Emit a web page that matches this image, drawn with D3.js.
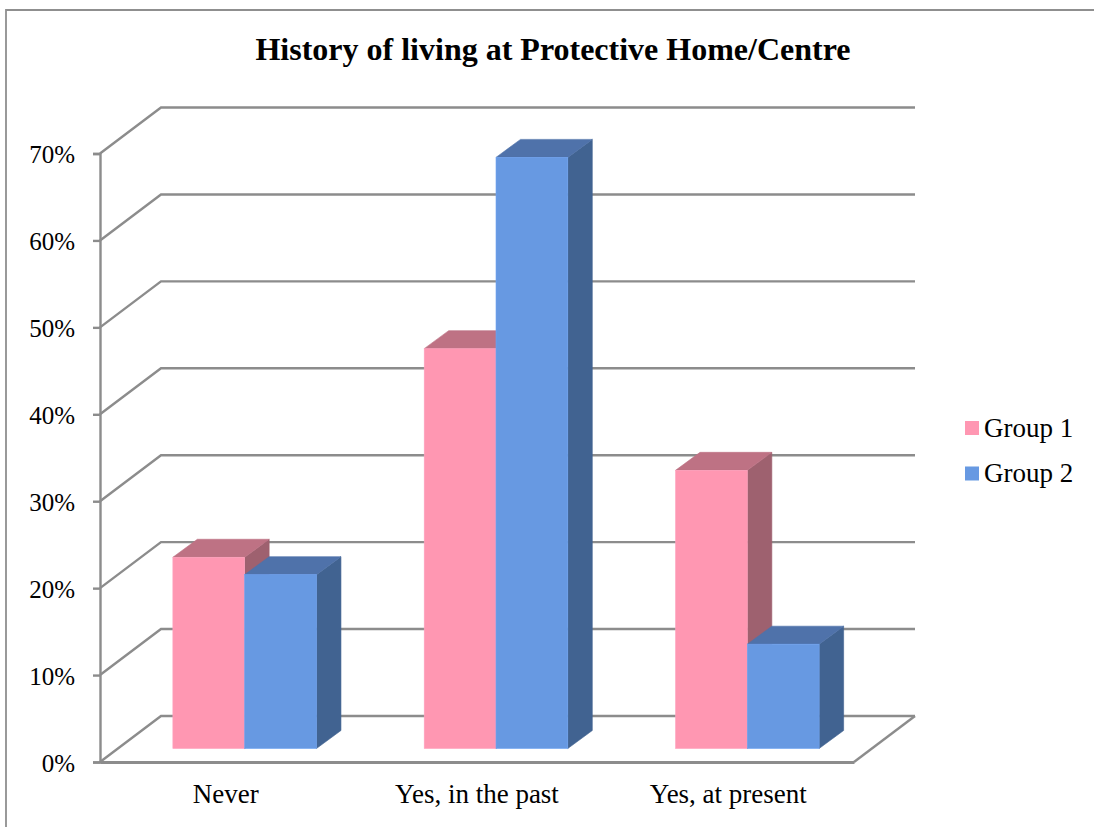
<!DOCTYPE html>
<html>
<head>
<meta charset="utf-8">
<script src="https://cdn.jsdelivr.net/npm/d3@7/dist/d3.min.js"></script>
<style>
  html, body { margin: 0; padding: 0; background: #fff; }
  svg { display: block; }
  text { font-family: "Liberation Serif", serif; fill: #000; }
</style>
</head>
<body>
<div id="chart"></div>
<script>
// Chart content
const chartTitle = "History of living at Protective Home/Centre";
const categories = ["Never", "Yes, in the past", "Yes, at present"];
const seriesNames = ["Group 1", "Group 2"];
const group1Values = [22, 46, 32];
const group2Values = [20, 68, 12];
const tickValues = [0, 10, 20, 30, 40, 50, 60, 70];

// Series colours: front, top and side faces of each column
const faceColours = [
  { front: "#ff97b2", top: "#be7284", side: "#9e616f" },
  { front: "#6799e2", top: "#4f72aa", side: "#416391" }
];
const gridColour = "#8c8c8c";

const width = 1094, height = 827;
const plot = { left: 100, right: 854, bottom: 762, top: 153.5 };
const wallDepth = { x: 61, y: -46 };    // front corner to back wall
const barInset = { x: 19, y: -13.5 };   // front corner to the front of the columns
const barDepth = { x: 24.5, y: -18 };   // front to back of a column

const svg = d3.select("#chart").append("svg")
  .attr("width", width).attr("height", height);

// Outer frame: only the top and left edges fall inside the page
svg.append("path")
  .attr("d", d3.line()([[6, height], [6, 10], [width, 10]]))
  .attr("fill", "none").attr("stroke", "#8f8f8f").attr("stroke-width", 1.8);

svg.append("text")
  .attr("x", 553).attr("y", 60)
  .attr("text-anchor", "middle")
  .attr("font-size", 32).attr("font-weight", "bold")
  .text(chartTitle);

const y = d3.scaleLinear().domain([0, 70]).range([plot.bottom, plot.top]);
const x = d3.scaleBand().domain(categories).range([plot.left, plot.right]);
const seriesX = d3.scaleBand().domain(seriesNames).range([0, 143.6]);
const groupOffset = (x.bandwidth() - seriesX.range()[1]) / 2 + barInset.x;

// Walls: each gridline runs up the side wall and along the back wall
const walls = svg.append("g").attr("fill", "none")
  .attr("stroke", gridColour).attr("stroke-width", 2.4);
walls.selectAll("path").data(tickValues).join("path")
  .attr("d", d => d3.line()([
    [plot.left, y(d)],
    [plot.left + wallDepth.x, y(d) + wallDepth.y],
    [plot.right + wallDepth.x, y(d) + wallDepth.y]
  ]));
// Right edge of the floor
walls.append("path").attr("d", d3.line()([
  [plot.right, plot.bottom],
  [plot.right + wallDepth.x, plot.bottom + wallDepth.y]
]));

// Value axis with its tick marks and percentage labels
const yAxis = svg.append("g")
  .attr("transform", `translate(${plot.left},0)`)
  .call(d3.axisLeft(y).tickValues(tickValues).tickSize(7).tickPadding(18)
    .tickFormat(d => d + "%"));
yAxis.selectAll("path, line").attr("stroke", gridColour).attr("stroke-width", 2.4);
yAxis.selectAll("text").attr("font-size", 25).attr("dy", "0.36em")
  .attr("font-family", '"Liberation Serif", serif').attr("fill", "#000");

// Category axis: front edge of the floor, no tick marks
const xAxis = svg.append("g")
  .attr("transform", `translate(0,${plot.bottom})`)
  .call(d3.axisBottom(x).tickSize(0).tickPadding(22));
xAxis.select("path").attr("stroke", gridColour).attr("stroke-width", 2.8);
xAxis.selectAll("text").attr("font-size", 27).attr("dy", "0.71em")
  .attr("font-family", '"Liberation Serif", serif').attr("fill", "#000");

// Columns, drawn group by group so nearer faces cover the ones behind
const seriesValues = [group1Values, group2Values];
const columnBase = plot.bottom + barInset.y;
const columnHeight = v => y(0) - y(v);

categories.forEach((category, c) => {
  seriesNames.forEach((name, s) => {
    const value = seriesValues[s][c];
    const colours = faceColours[s];
    const x0 = x(category) + groupOffset + seriesX(name);
    const x1 = x0 + seriesX.bandwidth();
    const yTop = columnBase - columnHeight(value);
    const g = svg.append("g").attr("stroke-width", 0.6);
    // Side face
    g.append("path")
      .attr("d", d3.line()([
        [x1, columnBase], [x1 + barDepth.x, columnBase + barDepth.y],
        [x1 + barDepth.x, yTop + barDepth.y], [x1, yTop]
      ]) + "Z")
      .attr("fill", colours.side).attr("stroke", colours.side);
    // Top face
    g.append("path")
      .attr("d", d3.line()([
        [x0, yTop], [x1, yTop],
        [x1 + barDepth.x, yTop + barDepth.y], [x0 + barDepth.x, yTop + barDepth.y]
      ]) + "Z")
      .attr("fill", colours.top).attr("stroke", colours.top);
    // Front face
    g.append("rect")
      .attr("x", x0).attr("y", yTop)
      .attr("width", x1 - x0).attr("height", columnBase - yTop)
      .attr("fill", colours.front)
      .attr("stroke", d3.color(colours.front).brighter(0.2));
  });
});

// Legend
const legendY = d3.scalePoint().domain(seriesNames).range([428, 473.5]);
const legend = svg.append("g").selectAll("g").data(seriesNames).join("g")
  .attr("transform", d => `translate(965,${legendY(d)})`);
legend.append("rect")
  .attr("x", 0).attr("y", -7).attr("width", 14).attr("height", 14)
  .attr("fill", (d, i) => faceColours[i].front);
legend.append("text")
  .attr("x", 19).attr("y", 8.5)
  .attr("font-size", 27)
  .text(d => d);
</script>
</body>
</html>
